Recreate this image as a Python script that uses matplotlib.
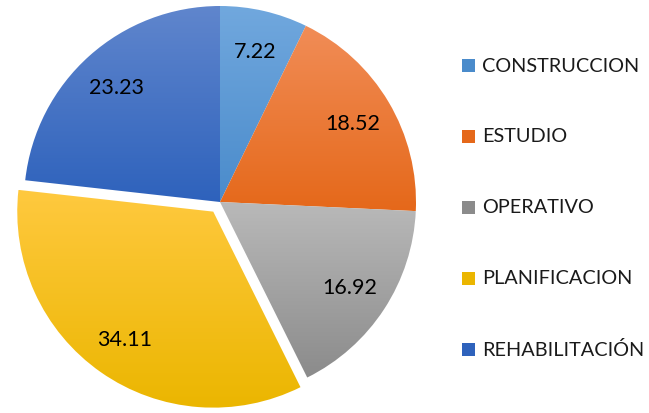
import matplotlib.pyplot as plt
import numpy as np
from matplotlib.colors import LinearSegmentedColormap
from matplotlib.patches import Rectangle

categorias = ['CONSTRUCCION', 'ESTUDIO', 'OPERATIVO', 'PLANIFICACION', 'REHABILITACIÓN']
valores = [7.22, 18.52, 16.92, 34.11, 23.23]
separacion = [0, 0, 0, 0.06, 0]
# (arriba, abajo) del degradado de cada sector
colores = [('#71a8de', '#4a8bcb'),
           ('#f18d57', '#e5681a'),
           ('#b9b9b9', '#8b8b8b'),
           ('#ffc93f', '#ebb600'),
           ('#6086cd', '#2e62bc')]

plt.rcParams['font.family'] = ['Lato', 'DejaVu Sans']

W, H = 649, 414
fig = plt.figure(figsize=(W / 100, H / 100), dpi=100)
fig.patch.set_facecolor('white')

# radio del pastel en pixeles y su centro
R, cx, cy = 196, 220, 203
lim = 1.1
ax = fig.add_axes([(cx - lim * R) / W, (H - cy - lim * R) / H, 2 * lim * R / W, 2 * lim * R / H])

wedges, _ = ax.pie(valores, startangle=90, counterclock=False, explode=separacion,
                   radius=1, wedgeprops=dict(linewidth=0, alpha=0))

grad = np.linspace(0, 1, 256).reshape(-1, 1)
for w, (c_top, c_bot), v in zip(wedges, colores, valores):
    bb = w.get_path().get_extents()
    cmap = LinearSegmentedColormap.from_list('g', [c_top, c_bot])
    im = ax.imshow(grad, cmap=cmap, aspect='auto', interpolation='bilinear',
                   extent=[bb.x0, bb.x1, bb.y0, bb.y1], zorder=1)
    im.set_clip_path(w)
    # etiqueta de valor dentro del sector
    ang = np.deg2rad((w.theta1 + w.theta2) / 2)
    x0, y0 = w.center
    ax.text(x0 + 0.79 * np.cos(ang), y0 + 0.79 * np.sin(ang), f'{v:.2f}',
            ha='center', va='center', fontsize=15.5, color='black', zorder=3)

ax.set_xlim(-lim, lim)
ax.set_ylim(-lim, lim)
ax.set_aspect('equal')
ax.axis('off')

# leyenda a la derecha
lx, ly0, paso = 462, 66, 71
for i, (cat, (c_top, c_bot)) in enumerate(zip(categorias, colores)):
    y = ly0 + i * paso
    fig.patches.append(Rectangle((lx / W, (H - y - 6.5) / H), 13 / W, 13 / H,
                                 transform=fig.transFigure, facecolor=c_bot,
                                 edgecolor='none'))
    fig.text((lx + 20) / W, (H - y) / H, cat, ha='left', va='center',
             fontsize=14.3, color='#1a1a1a')

fig.savefig('out.png', dpi=100)
